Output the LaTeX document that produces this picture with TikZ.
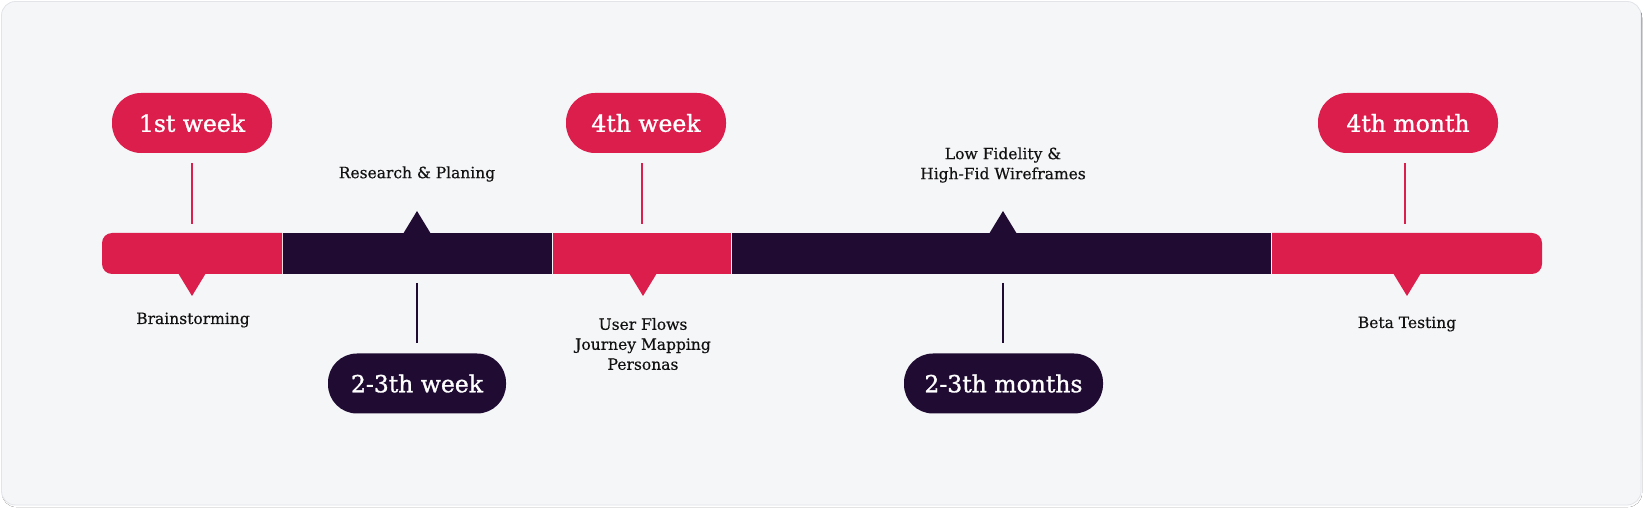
\documentclass[tikz,border=0pt]{standalone}
\usepackage{fontspec}
\setmainfont{DejaVu Serif}
\newfontfamily\pillfont[FakeBold=1.2]{DejaVu Serif}
\newfontfamily\descfont[FakeBold=0.4]{DejaVu Serif}
\definecolor{brand}{HTML}{DC1E4D}
\definecolor{ink}{HTML}{200B33}
\definecolor{panel}{HTML}{F5F6F8}
\definecolor{edge}{HTML}{E2E4E8}
\definecolor{shade}{HTML}{D9DBDF}
\definecolor{txt}{HTML}{111111}
\begin{document}
\begin{tikzpicture}[x=1pt,y=-1pt,
  pill/.style={rectangle, rounded corners=29pt, minimum height=60pt, inner sep=0pt, text=white, font=\pillfont\fontsize{23.5}{28}\selectfont},
  redpill/.style={pill, fill=brand},
  darkpill/.style={pill, fill=ink},
  desc/.style={font=\descfont\fontsize{15.5}{20}\selectfont, text=txt, align=center, inner sep=0pt},
  redtick/.style={draw=brand, line width=1.6pt},
  darktick/.style={draw=ink, line width=1.6pt},
  segment/.style={rectangle, inner sep=0pt, minimum height=41pt, anchor=north west},
]
\useasboundingbox (0,0) rectangle (1644,510);
% panel
\fill[shade, rounded corners=14pt] (2,3.5) rectangle (1642,507);
\draw[fill=panel, draw=edge, line width=0.8pt, rounded corners=14pt] (1.5,1.5) rectangle (1641,505);

% bar segments
\fill[brand] (282,233) [rounded corners=10pt] -- (102,233) -- (102,274) [sharp corners] -- (282,274) -- cycle;
\node[segment, fill=ink, minimum width=269pt] (s2) at (283,233) {};
\node[segment, fill=brand, minimum width=178pt] (s3) at (553,233) {};
\node[segment, fill=ink, minimum width=539pt] (s4) at (732,233) {};
\fill[brand] (1272,233) [rounded corners=10pt] -- (1542,233) -- (1542,274) [sharp corners] -- (1272,274) -- cycle;

% pointers
\fill[brand] (178,273) -- (192,296) -- (206,273) -- cycle;
\fill[ink] (403,234) -- (417,211) -- (431,234) -- cycle;
\fill[brand] (629,273) -- (643,296) -- (657,273) -- cycle;
\fill[ink] (989,234) -- (1003,211) -- (1017,234) -- cycle;
\fill[brand] (1393,273) -- (1407,296) -- (1421,273) -- cycle;

% pills
\node[redpill, minimum width=160pt] (p1) at (192,123) {1st week};
\node[darkpill, minimum width=178pt] (p2) at (417,383.5) {2-3th week};
\node[redpill, minimum width=160pt] (p3) at (646,123) {4th week};
\node[darkpill, minimum width=199pt] (p4) at (1003.5,383.5) {2-3th months};
\node[redpill, minimum width=180pt] (p5) at (1408,123) {4th month};

% tick coordinates
\coordinate (t1) at (192,224);
\coordinate (b2) at (417,283);
\coordinate (t3) at (642,224);
\coordinate (b4) at (1003,283);
\coordinate (t5) at (1405,224);

\draw[redtick, shorten <=10pt] (p1.south) -- (t1);
\draw[darktick, shorten >=10pt] (b2) -- (p2.north -| b2);
\draw[redtick, shorten <=10pt] (p3.south -| t3) -- (t3);
\draw[darktick, shorten >=10pt] (b4) -- (p4.north -| b4);
\draw[redtick, shorten <=10pt] (p5.south -| t5) -- (t5);

% labels
\node[desc] (l1) at (193,320) {Brainstorming};
\node[desc] (l2) at (417,174) {Research \& Planing};
\node[desc] (l3) at (643,344) {User Flows\\Journey Mapping\\Personas};
\node[desc] (l4) at (1003,165) {Low Fidelity \&\\High-Fid Wireframes};
\node[desc] (l5) at (1407,324) {Beta Testing};
\end{tikzpicture}
\end{document}
